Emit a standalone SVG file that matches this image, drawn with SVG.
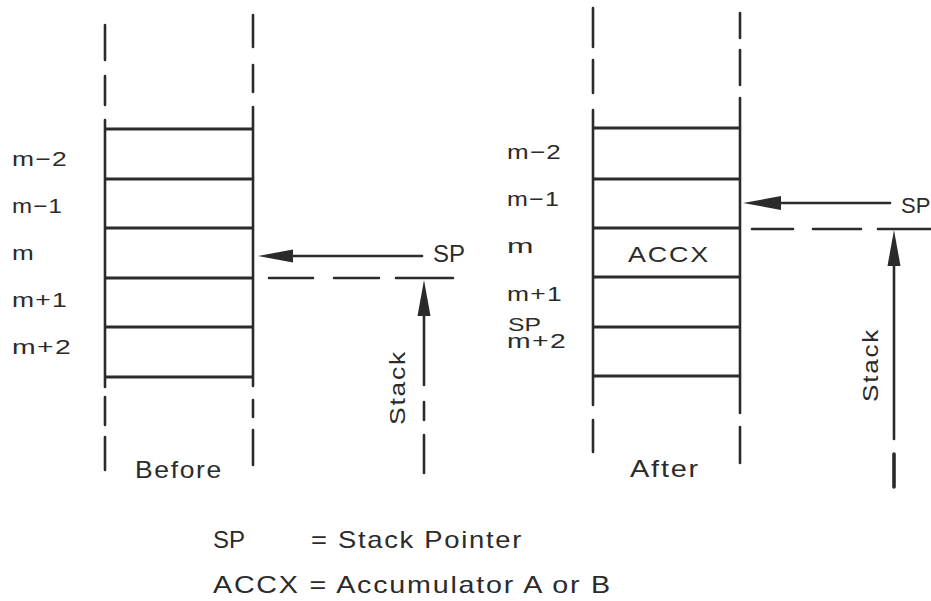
<svg xmlns="http://www.w3.org/2000/svg" width="931" height="601" viewBox="0 0 931 601">
  <style>
    .ln { stroke: #2b2b2b; stroke-width: 2.6; fill: none; stroke-linecap: round; }
    .cell { stroke: #2b2b2b; stroke-width: 2.8; fill: none; }
    .head { fill: #2b2b2b; stroke: none; }
    text { font-family: "Liberation Sans", Arial, sans-serif; fill: #2b2b2b; }
    .lbl { font-size: 21px; letter-spacing: 1px; }
    .mid { font-size: 22px; letter-spacing: 1.5px; }
    .big { font-size: 24px; letter-spacing: 1.5px; }
    .tight { letter-spacing: 0; }
  </style>
  <rect width="931" height="601" fill="#ffffff"/>

  <!-- stack before the push -->
  <g id="stack-before">
    <path class="ln" d="M105 25V60M105 76V105M105 120V387M105 397V425M105 437V470"/>
    <path class="ln" d="M253 15V47M253 65V92M253 107V386M253 400V417M253 430V465"/>
    <path class="cell" d="M105 129H253M105 179H253M105 228H253M105 278H253M105 327H253M105 377H253"/>
    <text class="big" x="135" y="478" textLength="88" lengthAdjust="spacingAndGlyphs">Before</text>
  </g>
  <g id="labels-before">
    <text class="lbl" x="12" y="166" textLength="56" lengthAdjust="spacingAndGlyphs">m−2</text>
    <text class="lbl" x="12" y="213" textLength="51" lengthAdjust="spacingAndGlyphs">m−1</text>
    <text class="lbl" x="12" y="260" textLength="23" lengthAdjust="spacingAndGlyphs">m</text>
    <text class="lbl" x="12" y="307" textLength="56" lengthAdjust="spacingAndGlyphs">m+1</text>
    <text class="lbl" x="12" y="354" textLength="60" lengthAdjust="spacingAndGlyphs">m+2</text>
  </g>

  <!-- stack after the push -->
  <g id="stack-after">
    <path class="ln" d="M593 8V47M593 60V93M593 110V405M593 420V452"/>
    <path class="ln" d="M740 13V38M740 50V85M740 98V413M740 427V463"/>
    <path class="cell" d="M593 128H740M593 179H740M593 228H740M593 277H740M593 327H740M593 376H740"/>
    <text class="mid" x="628" y="262" textLength="82" lengthAdjust="spacingAndGlyphs">ACCX</text>
    <text class="big" x="630" y="477" textLength="70" lengthAdjust="spacingAndGlyphs">After</text>
  </g>
  <g id="labels-after">
    <text class="lbl" x="507" y="159" textLength="55" lengthAdjust="spacingAndGlyphs">m−2</text>
    <text class="lbl" x="507" y="206" textLength="53" lengthAdjust="spacingAndGlyphs">m−1</text>
    <text class="lbl" x="507" y="253" textLength="28" lengthAdjust="spacingAndGlyphs">m</text>
    <text class="lbl" x="507" y="301" textLength="56" lengthAdjust="spacingAndGlyphs">m+1</text>
    <text class="lbl tight" x="508" y="331" textLength="33" lengthAdjust="spacingAndGlyphs" style="font-size:19px">SP</text>
    <text class="lbl" x="507" y="348" textLength="60" lengthAdjust="spacingAndGlyphs">m+2</text>
  </g>

  <!-- stack pointer and stack-direction markers -->
  <g id="connectors">
    <!-- before: SP arrow, stack top line, growth arrow -->
    <path class="ln" d="M292 256H422"/>
    <polygon class="head" points="258,256 293,249.5 293,262.5"/>
    <path class="ln" d="M269 278H313M334 278H379M396 278H453"/>
    <path class="ln" d="M424 314V385M424 402V420M424 435V473"/>
    <polygon class="head" points="424,280 417.5,316 430.5,316"/>

    <!-- after: SP arrow, stack top line, growth arrow -->
    <path class="ln" d="M779 203H890"/>
    <polygon class="head" points="743,203 781,196 781,210"/>
    <path class="ln" d="M752 229H793M813 229H861M878 229H933"/>
    <path class="ln" d="M894 264V439"/>
    <path class="ln" d="M894 454V487" style="stroke-width:3.6"/>
    <polygon class="head" points="894,230 887.5,266 900.5,266"/>
  </g>
  <g id="pointer-labels">
    <text class="big tight" x="433" y="262">SP</text>
    <text class="big tight" x="901" y="213" style="font-size:22px">SP</text>
    <text class="mid" transform="translate(405,425) rotate(-90)" textLength="75" lengthAdjust="spacingAndGlyphs">Stack</text>
    <text class="mid" transform="translate(878,402) rotate(-90)" textLength="74" lengthAdjust="spacingAndGlyphs">Stack</text>
  </g>

  <!-- legend -->
  <g id="legend">
    <text class="big tight" x="213" y="548">SP</text>
    <text class="big" x="311" y="548" textLength="212" lengthAdjust="spacingAndGlyphs">= Stack Pointer</text>
    <text class="big" x="213" y="593" textLength="399" lengthAdjust="spacingAndGlyphs">ACCX = Accumulator A or B</text>
  </g>
</svg>
